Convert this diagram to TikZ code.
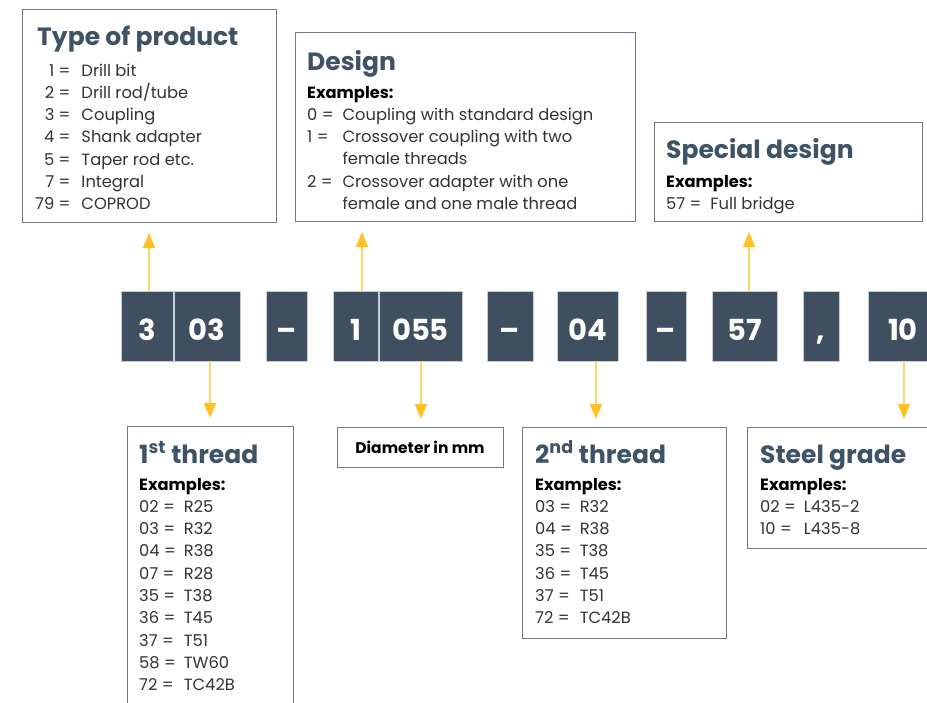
\documentclass[tikz,border=0pt]{standalone}
\usepackage{fontspec}
\setmainfont{Poppins}
\usetikzlibrary{arrows.meta}
\definecolor{blockfill}{HTML}{3F4F5F}
\definecolor{blockedge}{HTML}{C5CDD5}
\definecolor{titlecol}{HTML}{3F5367}
\definecolor{boxline}{HTML}{6E7A88}
\definecolor{bodycol}{HTML}{333333}
\definecolor{arrline}{HTML}{FFD566}
\definecolor{arrtip}{HTML}{FFC222}
\newcommand\mytitlefont{\fontsize{25}{29}\selectfont\bfseries\color{titlecol}}
\newcommand\mybodyfont{\fontsize{16.3}{22.3}\selectfont\color{bodycol}}
\newcommand\myblockfont{\fontsize{29}{34}\selectfont\bfseries}
\begin{document}
\begin{tikzpicture}[x=1pt,y=-1pt,
  blk/.style={fill=blockfill, draw=blockedge, line width=0.8pt, anchor=north west,
    minimum height=70, inner sep=0, outer sep=0, text=white, font=\myblockfont, text height=29.5pt, text depth=0pt},
  infobox/.style={draw=boxline, line width=0.9pt, fill=white, anchor=north west, inner sep=0, outer sep=0},
  ttl/.style={anchor=base west, inner sep=0, font=\mytitlefont},
  bodytxt/.style={anchor=base west, inner sep=0, font=\mybodyfont},
  arr/.style={draw=arrline, line width=2pt, -{Triangle[width=12pt,length=15pt,color=arrtip]}},
]
\useasboundingbox (0,0) rectangle (927,702);
\clip (0,0) rectangle (927,702);

% info boxes
\node[infobox, minimum width=254, minimum height=213] (type) at (22,9) {};
\node[infobox, minimum width=340, minimum height=189] (design) at (295,32) {};
\node[infobox, minimum width=268, minimum height=99] (special) at (654,122) {};
\node[infobox, minimum width=166, minimum height=300] (thr1) at (127,426) {};
\node[infobox, minimum width=166, minimum height=40, font=\fontsize{15.5}{18}\selectfont\bfseries, text=black] (diam) at (337,427) {Diameter in mm};
\node[infobox, minimum width=204, minimum height=211] (thr2) at (522,427) {};
\node[infobox, minimum width=220, minimum height=121] (steel) at (747,427) {};

% titles
\node[ttl] (typet) at (37,45) {Type of product};
\node[ttl] (designt) at (307,70) {Design};
\node[ttl] (specialt) at (666,158) {Special design};
\node[ttl] (thr1t) at (139,463) {1\textsuperscript{st} thread};
\node[ttl] (thr2t) at (535,463) {2\textsuperscript{nd} thread};
\node[ttl] (steelt) at (760,463) {Steel grade};

% bodies
\node[bodytxt] (typeb) at (35,76) {\begin{tabular}[t]{@{}r@{\hspace{11pt}}l@{}}
1 = & Drill bit\\ 2 = & Drill rod/tube\\ 3 = & Coupling\\ 4 = & Shank adapter\\
5 = & Taper rod etc.\\ 7 = & Integral\\ 79 = & COPROD\end{tabular}};
\node[bodytxt] (designb) at (307,98) {\begin{tabular}[t]{@{}l@{\hspace{9pt}}l@{}}
\multicolumn{2}{@{}l@{}}{\color{black}\bfseries Examples:}\\
0 = & Coupling with standard design\\ 1 = & Crossover coupling with two\\
 & female threads\\ 2 = & Crossover adapter with one\\ & female and one male thread\end{tabular}};
\node[bodytxt] (specialb) at (666,187) {\begin{tabular}[t]{@{}l@{\hspace{9pt}}l@{}}
\multicolumn{2}{@{}l@{}}{\color{black}\bfseries Examples:}\\
57 = & Full bridge\end{tabular}};
\node[bodytxt] (thr1b) at (139,490) {\begin{tabular}[t]{@{}l@{\hspace{8pt}}l@{}}
\multicolumn{2}{@{}l@{}}{\color{black}\bfseries Examples:}\\
02 = & R25\\ 03 = & R32\\ 04 = & R38\\ 07 = & R28\\ 35 = & T38\\ 36 = & T45\\
37 = & T51\\ 58 = & TW60\\ 72 = & TC42B\end{tabular}};
\node[bodytxt] (thr2b) at (535,490) {\begin{tabular}[t]{@{}l@{\hspace{8pt}}l@{}}
\multicolumn{2}{@{}l@{}}{\color{black}\bfseries Examples:}\\
03 = & R32\\ 04 = & R38\\ 35 = & T38\\ 36 = & T45\\ 37 = & T51\\ 72 = & TC42B\end{tabular}};
\node[bodytxt] (steelb) at (760,490) {\begin{tabular}[t]{@{}l@{\hspace{8pt}}l@{}}
\multicolumn{2}{@{}l@{}}{\color{black}\bfseries Examples:}\\
02 = & L435-2\\ 10 = & L435-8\end{tabular}};

% code blocks
\node[blk, minimum width=52] (b3) at (121,291) {3};
\node[blk, minimum width=66] (b03) at (174,291) {03};
\node[blk, minimum width=41] (bd1) at (266,291) {–};
\node[blk, minimum width=45] (b1) at (333,291) {1};
\node[blk, minimum width=83] (b055) at (379,291) {055};
\node[blk, minimum width=46] (bd2) at (487,291) {–};
\node[blk, minimum width=61] (b04) at (557,291) {04};
\node[blk, minimum width=40] (bd3) at (646,291) {–};
\node[blk, minimum width=65] (b57) at (712,291) {57};
\node[blk, minimum width=36] (bc) at (803,291) {,};
\node[blk, minimum width=70, text width=60, align=left] (b10) at (868,291) {\hspace{15pt}10};

% connector x positions
\coordinate (xa) at (149,0);
\coordinate (xb) at (210,0);
\coordinate (xc) at (362,0);
\coordinate (xd) at (421,0);
\coordinate (xe) at (596,0);
\coordinate (xf) at (749,0);
\coordinate (xg) at (904,0);

% connectors
\draw[arr, shorten >=11pt] (b3.north -| xa) -- (type.south -| xa);
\draw[arr, shorten >=11pt] (b1.north -| xc) -- (design.south -| xc);
\draw[arr, shorten >=11pt] (b57.north -| xf) -- (special.south -| xf);
\draw[arr, shorten >=8pt] (b03.south -| xb) -- (thr1.north -| xb);
\draw[arr, shorten >=8pt] (b055.south -| xd) -- (diam.north -| xd);
\draw[arr, shorten >=8pt] (b04.south -| xe) -- (thr2.north -| xe);
\draw[arr, shorten >=8pt] (b10.south -| xg) -- (steel.north -| xg);
\end{tikzpicture}
\end{document}
